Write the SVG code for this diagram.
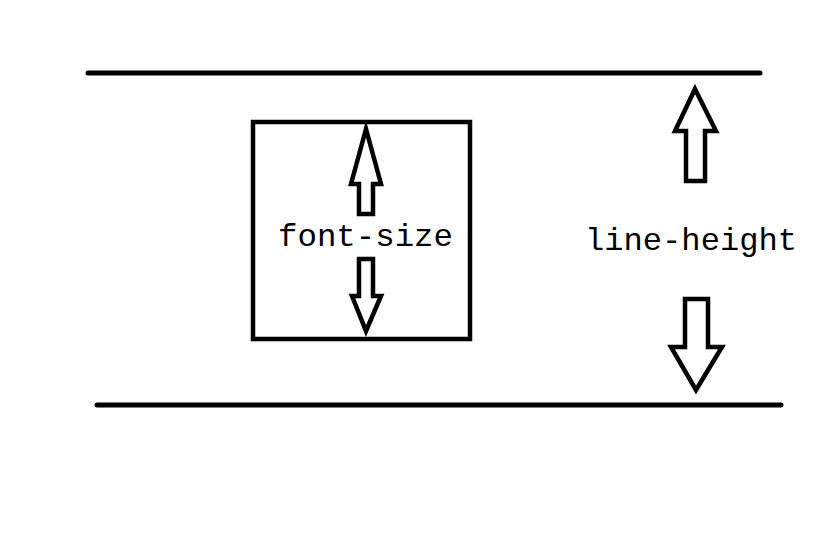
<svg xmlns="http://www.w3.org/2000/svg" width="820" height="537" viewBox="0 0 820 537">
<style>
.ln{stroke:#000;stroke-width:5;stroke-linecap:round;fill:none}
.box{stroke:#000;stroke-width:4.5;fill:none}
.arr{stroke:#000;stroke-width:4.5;fill:#fff;stroke-linejoin:miter}
.lbl{font-family:"Liberation Mono","DejaVu Sans Mono",monospace;font-size:32px;fill:#000}
</style>
<rect width="820" height="537" fill="#fff"/>
<g id="connectors">
<line class="ln" x1="88" y1="73" x2="760" y2="73"/>
<line class="ln" x1="97" y1="405" x2="781" y2="405"/>
</g>
<g id="font-size-box">
<rect class="box" x="253" y="122" width="217" height="217"/>
<path class="arr" d="M366 129 L381 184 L373 184 L373 214 L359 214 L359 184 L351 184 Z"/>
<path class="arr" d="M359 259 L373 259 L373 296 L381 296 L366 331 L352 296 L359 296 Z"/>
<text class="lbl" x="278" y="246" textLength="175" lengthAdjust="spacingAndGlyphs">font-size</text>
</g>
<g id="line-height">
<path class="arr" d="M695 89 L716 131 L705 131 L705 181 L686 181 L686 131 L675 131 Z"/>
<path class="arr" d="M685 299 L708 299 L708 347 L722 347 L696 390 L671 347 L685 347 Z"/>
<text class="lbl" x="585" y="250" textLength="212" lengthAdjust="spacingAndGlyphs">line-height</text>
</g>
</svg>
